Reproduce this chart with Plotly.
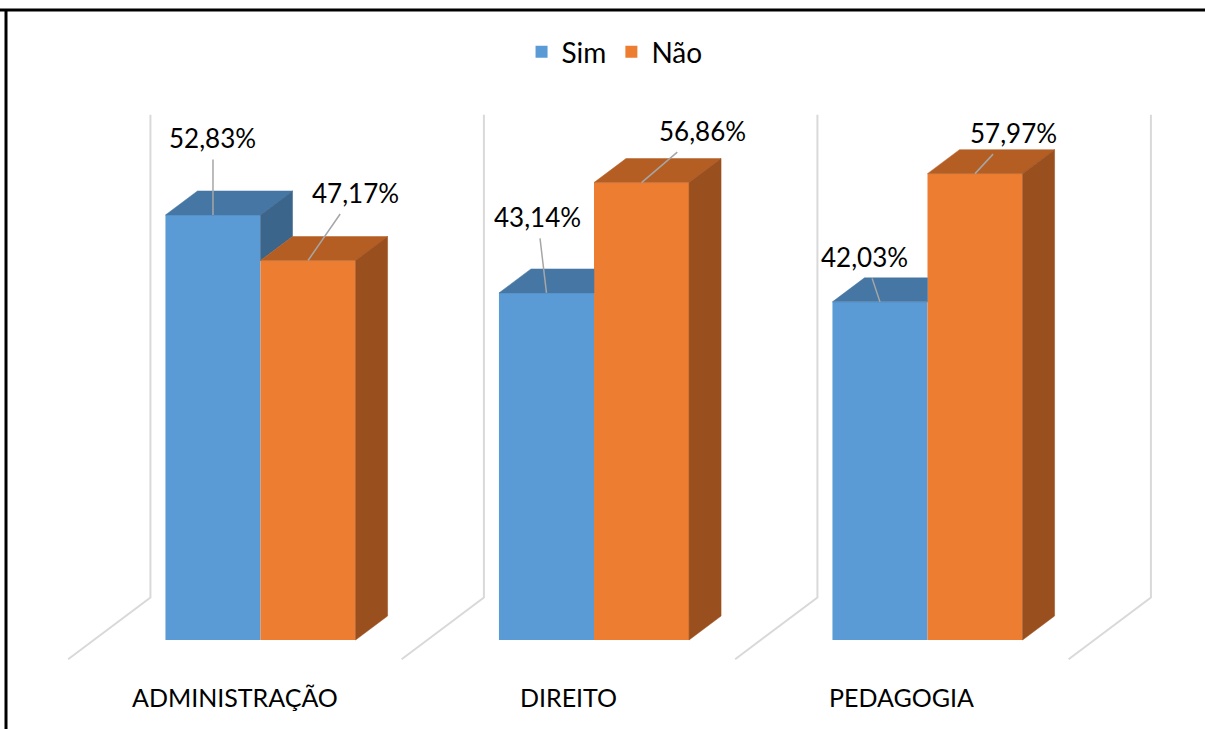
import plotly.graph_objects as go

# ---------------- data ----------------
categories = ["ADMINISTRAÇÃO", "DIREITO", "PEDAGOGIA"]
series_names = ["Sim", "Não"]
sim_values = [52.83, 43.14, 42.03]
nao_values = [47.17, 56.86, 57.97]
axis_max = 60

# ---------------- style / geometry ----------------
FONT = "Lato"
front_colors = ["#5B9BD5", "#ED7D31"]
top_colors = ["#4677A4", "#B45E24"]
side_colors = ["#3C658C", "#9A4F1E"]
GRID = "#D9D9D9"

BAR_W = 0.285          # width of one bar in category units
DX, DY = 0.096, 2.983  # oblique depth of a bar (category units, value units)
FLOOR_FRONT, FLOOR_BACK = -0.8, 1.77  # depth factors of floor edges

# label text offsets (pixels) relative to bar front-top centre
label_offsets = [[(0, -77), (47, -68)], [(-9, -76), (61, -52)], [(-15, -45), (38, -41)]]

W, H = 1205, 729
PX_CAT, PX_VAL = 333.5, 8.045
X0_PX, Y0_PX = 260.5, 640

fig = go.Figure()

idx = list(range(len(categories)))

# grid: floor diagonals and back-wall verticals at category boundaries
for k in range(len(categories) + 1):
    xb = k - 0.5
    fig.add_trace(go.Scatter(
        x=[xb + FLOOR_FRONT * DX, xb + FLOOR_BACK * DX, xb + FLOOR_BACK * DX],
        y=[FLOOR_FRONT * DY, FLOOR_BACK * DY, axis_max + FLOOR_BACK * DY],
        mode="lines", line=dict(color=GRID, width=2),
        hoverinfo="skip", showlegend=False))

# front faces
all_vals = [sim_values, nao_values]
for s, name in enumerate(series_names):
    fig.add_trace(go.Bar(
        x=idx, y=all_vals[s], name=name,
        marker=dict(color=front_colors[s], line=dict(width=0)),
        hoverinfo="skip"))

def poly(xs, ys, color):
    fig.add_trace(go.Scatter(
        x=xs + [xs[0]], y=ys + [ys[0]], mode="lines", fill="toself",
        fillcolor=color, line=dict(color=color, width=0.5),
        hoverinfo="skip", showlegend=False))

for i in idx:
    a, b = sim_values[i], nao_values[i]
    # Sim bar (left)
    xl, xr = i - BAR_W, i
    if b >= a + DY:
        poly([xl, xr, xr, xl + DX], [a, a, a + DY, a + DY], top_colors[0])
    else:
        poly([xl, xr, xr + DX, xl + DX], [a, a, a + DY, a + DY], top_colors[0])
    if b < a:
        poly([xr, xr, xr + DX, xr + DX], [b, a, a + DY, b + DY], side_colors[0])
    # Não bar (right)
    xl, xr = i, i + BAR_W
    poly([xl, xr, xr + DX, xl + DX], [b, b, b + DY, b + DY], top_colors[1])
    poly([xr, xr, xr + DX, xr + DX], [0, b, b + DY, DY], side_colors[1])

annotations = []
for i in idx:
    for s in range(2):
        v = all_vals[s][i]
        xc = i - BAR_W / 2 if s == 0 else i + BAR_W / 2
        ax, ay = label_offsets[i][s]
        annotations.append(dict(
            x=xc, y=v, xref="x", yref="y",
            text=f"{v:.2f}".replace(".", ",") + "%",
            showarrow=True, arrowhead=0, arrowwidth=1.5, arrowcolor="#A6A6A6",
            ax=ax, ay=ay, standoff=0, borderpad=5,
            font=dict(family=FONT, size=26, color="#000000")))
    annotations.append(dict(
        x=i + FLOOR_FRONT * DX, y=-7.1, xref="x", yref="y",
        text=categories[i], showarrow=False,
        font=dict(family=FONT, size=25, color="#000000")))

x_range = [-X0_PX / PX_CAT, (W - X0_PX) / PX_CAT]
y_range = [-(H - Y0_PX) / PX_VAL, Y0_PX / PX_VAL]

fig.update_layout(
    width=W, height=H,
    margin=dict(l=0, r=0, t=0, b=0),
    paper_bgcolor="white", plot_bgcolor="white",
    barmode="group", bargap=1 - 2 * BAR_W, bargroupgap=0,
    xaxis=dict(range=x_range, visible=False, fixedrange=True),
    yaxis=dict(range=y_range, visible=False, fixedrange=True),
    legend=dict(orientation="h", x=0.51, xanchor="center", y=1 - 52 / H, yanchor="middle",
                font=dict(family=FONT, size=28, color="#000000"),
                itemsizing="constant", traceorder="normal", bgcolor="rgba(0,0,0,0)"),
    annotations=annotations,
    shapes=[
        dict(type="line", xref="paper", yref="paper", x0=0, x1=1, y0=1 - 10 / H, y1=1 - 10 / H,
             line=dict(color="black", width=3)),
        dict(type="line", xref="paper", yref="paper", x0=6 / W, x1=6 / W, y0=0, y1=1 - 10 / H,
             line=dict(color="black", width=3)),
    ],
    showlegend=True,
)

fig.write_html("out.html", config={"displayModeBar": False},
               post_script="document.body.style.margin='0px';document.body.style.overflow='hidden';")
